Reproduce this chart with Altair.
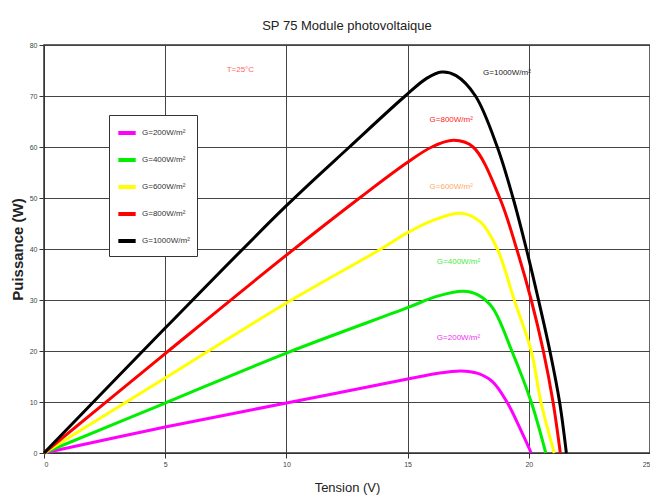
import altair as alt
import pandas as pd

# ---- data ----
g_labels = ["G=200W/m²", "G=400W/m²", "G=600W/m²", "G=800W/m²", "G=1000W/m²"]
colors = ["#ff00ff", "#00ee00", "#ffff00", "#ff0000", "#000000"]

v_200 = [0, 5, 10, 15, 16.2, 17.2, 17.9, 18.5, 19.1, 19.7, 20.1]
p_200 = [0, 5.1, 9.8, 14.5, 15.6, 16.1, 15.6, 14.0, 10.0, 4.2, 0]

v_400 = [0, 5, 10, 15, 16.2, 17.3, 17.9, 18.5, 19.3, 20.1, 20.7]
p_400 = [0, 9.8, 19.6, 28.5, 30.7, 31.7, 31.0, 28.5, 20.0, 10.0, 0]

v_600 = [0, 5, 10, 13.9, 15, 16.1, 17.2, 18.0, 18.7, 19.4, 20.1, 20.5, 21.05]
p_600 = [0, 14.7, 29.4, 40.0, 43.2, 45.7, 47.0, 45.3, 40.0, 30.0, 20.0, 10.0, 0]

v_800 = [0, 5, 10, 13.1, 15, 16.0, 16.9, 17.7, 18.8, 19.5, 20.1, 20.6, 21.0, 21.3]
p_800 = [0, 19.5, 38.8, 50.3, 57.0, 60.0, 61.3, 60.0, 50.0, 40.0, 30.0, 20.0, 10.0, 0]

v_1000 = [0, 5, 10, 12.6, 14.9, 15.8, 16.4, 17.0, 17.8, 18.7, 19.35, 19.9, 20.4, 20.87, 21.27, 21.55]
p_1000 = [0, 24.5, 48.5, 60.0, 70.0, 73.5, 74.7, 74.0, 70.0, 60.0, 50.0, 40.0, 30.0, 20.0, 10.0, 0]

ann_text = ["T=25°C", "G=1000W/m²", "G=800W/m²", "G=600W/m²", "G=400W/m²", "G=200W/m²"]
ann_v = [8.1, 19.1, 16.8, 16.8, 17.1, 17.1]
ann_p = [75.1, 74.5, 65.3, 52.2, 37.5, 22.5]
ann_color = ["#ff6666", "#222222", "#ff2222", "#ffaa66", "#44ee44", "#ee33ee"]

series = [(v_200, p_200), (v_400, p_400), (v_600, p_600), (v_800, p_800), (v_1000, p_1000)]
rows = []
for lab, (vs, ps) in zip(g_labels, series):
    for i, (v, p) in enumerate(zip(vs, ps)):
        rows.append({"V": v, "P": p, "G": lab, "i": i})
df = pd.DataFrame(rows)

ann = pd.DataFrame({"t": ann_text, "V": ann_v, "P": ann_p, "c": ann_color})

FONT = "Liberation Sans, Arial, sans-serif"

x = alt.X("V:Q", scale=alt.Scale(domain=[0, 25], nice=False),
          axis=alt.Axis(values=[0, 5, 10, 15, 20, 25], title="Tension (V)"))
y = alt.Y("P:Q", scale=alt.Scale(domain=[0, 80], nice=False),
          axis=alt.Axis(values=[0, 10, 20, 30, 40, 50, 60, 70, 80], title="Puissance (W)"))

lines = alt.Chart(df).mark_line(strokeWidth=3, interpolate="catmull-rom").encode(
    x=x, y=y,
    order="i:Q",
    color=alt.Color("G:N", scale=alt.Scale(domain=g_labels, range=colors),
                    sort=g_labels,
                    legend=alt.Legend(title=None, orient="none", legendX=65, legendY=70,
                                      symbolType="stroke", symbolStrokeWidth=4, symbolSize=300,
                                      labelFontSize=8, labelFont=FONT, rowPadding=8,
                                      padding=7, strokeColor="#333", fillColor="white",
                                      labelColor="#333")),
)

texts = alt.Chart(ann).mark_text(fontSize=8, font=FONT).encode(
    x="V:Q", y="P:Q", text="t:N",
    color=alt.Color("c:N", scale=None),
)

chart = (lines + texts).properties(
    width=606, height=408,
    title=alt.Title("SP 75 Module photovoltaique", fontSize=13, font=FONT,
                    fontWeight="normal", color="#222", offset=8),
    autosize=alt.AutoSizeParams(type="none"),
    padding={"left": 36, "top": 37, "right": 0, "bottom": 45},
).configure_view(stroke="#333", strokeWidth=1.5).configure_axis(
    gridColor="#444", gridWidth=1, gridOpacity=1, domainColor="#333",
    tickColor="#333", labelFontSize=7, labelFont=FONT, labelColor="#444",
    titleFont=FONT, titleColor="#222",
).configure_axisY(titleFontSize=15, titleFontWeight="bold", titlePadding=4).configure_axisX(
    titleFontSize=13, titleFontWeight="normal", titlePadding=14)

chart.save("out.html", embed_options={"renderer": "svg", "actions": False})
